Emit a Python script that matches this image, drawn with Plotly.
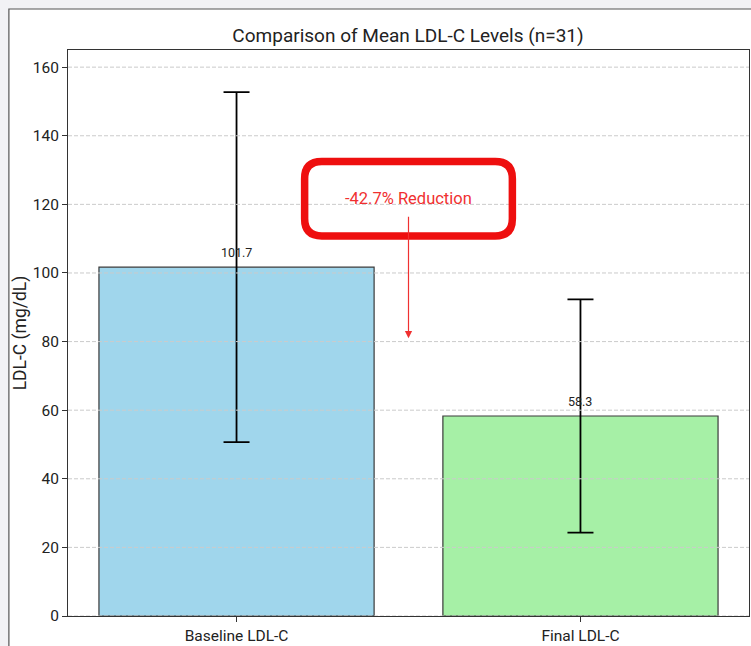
import plotly.graph_objects as go

# ---- data ----
categories = ["Baseline LDL-C", "Final LDL-C"]
means = [101.7, 58.3]
sds = [51.0, 34.0]
bar_colors = ["#a0d6ec", "#a6f0a6"]
y_ticks = [0, 20, 40, 60, 80, 100, 120, 140, 160]
n_patients = 31
arrow_target = 81
label_y = 121.8

pct = (means[1] - means[0]) / means[0] * 100
FONT = "Roboto"

fig = go.Figure()
fig.add_trace(go.Bar(
    x=[0, 1], y=means, width=0.8,
    marker=dict(color=bar_colors, line=dict(color="#3a3a3a", width=1.2)),
    error_y=dict(type="data", array=sds, visible=True, color="black",
                 thickness=1.8, width=13),
    showlegend=False, hoverinfo="skip",
))

# value labels
for i, v in enumerate(means):
    fig.add_annotation(x=i, y=v, text=f"{v:.1f}", showarrow=False,
                       yanchor="bottom", yshift=5,
                       font=dict(family=FONT, size=12.5, color="#222"))

# grid lines drawn above bars (dashed)
for t in y_ticks:
    fig.add_shape(type="line", xref="paper", yref="y", x0=0, x1=1, y0=t, y1=t,
                  line=dict(color="#cbcbcb", width=1, dash="4px,2px"),
                  layer="above")

# reduction label and arrow
fig.add_annotation(x=0.5, y=label_y, text=f"{pct:.1f}% Reduction", showarrow=False,
                   font=dict(family=FONT, size=16.5, color="#f03030"))
fig.add_annotation(x=0.5, y=arrow_target, ax=0.5, ay=label_y - 5, axref="x", ayref="y",
                   xref="x", yref="y", text="", showarrow=True,
                   arrowhead=2, arrowsize=1.2, arrowwidth=1.2, arrowcolor="#f03030")

# rounded highlight box around the label
bx0, bx1 = 0.5 - 0.302, 0.5 + 0.302
by0, by1 = label_y - 11.0, label_y + 10.7
rx, ry = 0.05, 5.0
path = (f"M {bx0+rx},{by1} L {bx1-rx},{by1} Q {bx1},{by1} {bx1},{by1-ry} "
        f"L {bx1},{by0+ry} Q {bx1},{by0} {bx1-rx},{by0} "
        f"L {bx0+rx},{by0} Q {bx0},{by0} {bx0},{by0+ry} "
        f"L {bx0},{by1-ry} Q {bx0},{by1} {bx0+rx},{by1} Z")
fig.add_shape(type="path", path=path, xref="x", yref="y",
              line=dict(color="#ee0f0f", width=7.5), layer="above")

# card background frame
fig.add_shape(type="rect", xref="paper", yref="paper",
              x0=-0.0868, x1=1.2, y0=-0.3, y1=1.0724,
              fillcolor="white", line=dict(color="#555", width=1.2), layer="below")

fig.update_layout(
    width=751, height=646,
    margin=dict(l=68, r=1, t=50, b=27),
    paper_bgcolor="#f2f2f5", plot_bgcolor="white",
    title=dict(text=f"Comparison of Mean LDL-C Levels (n={n_patients})",
               x=(68 + (751 - 3)) / 2 / 751, xanchor="center",
               y=1 - 35 / 646, yanchor="middle",
               font=dict(family=FONT, size=19, color="#222")),
    font=dict(family=FONT, color="#222"),
)
fig.update_xaxes(range=[-0.49, 1.49], tickvals=[0, 1], ticktext=categories,
                 ticks="outside", ticklen=5, tickcolor="#333",
                 showline=True, linecolor="#333", linewidth=1, mirror=True,
                 showgrid=False, zeroline=False,
                 tickfont=dict(family=FONT, size=15.5, color="#222"))
fig.update_yaxes(range=[0, 165], tickvals=y_ticks,
                 ticks="outside", ticklen=5, tickcolor="#333",
                 showline=True, linecolor="#333", linewidth=1, mirror=True,
                 showgrid=False, zeroline=False,
                 title=dict(text="LDL-C (mg/dL)", standoff=1,
                            font=dict(family=FONT, size=17.5, color="#222")),
                 tickfont=dict(family=FONT, size=15.5, color="#222"))

fig.write_html("out.html", config={"displayModeBar": False},
               post_script="document.body.style.margin='0';document.body.style.overflow='hidden';")
